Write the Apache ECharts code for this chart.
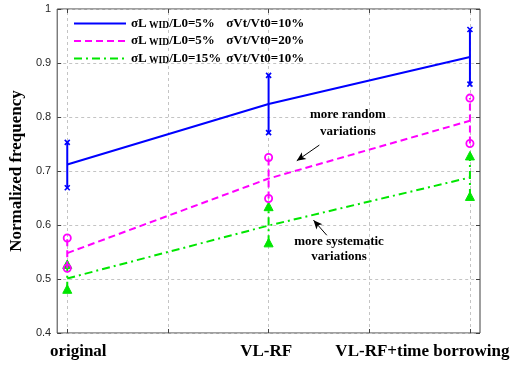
<!DOCTYPE html>
<html>
<head>
<meta charset="utf-8">
<script src="https://cdn.jsdelivr.net/npm/echarts@6/dist/echarts.min.js"></script>
<style>
  html, body { margin: 0; padding: 0; background: #fff; }
  #chart { width: 519px; height: 365px; }
</style>
</head>
<body>
<div id="chart"></div>
<script>
// Design stages along the x axis
const stages = ['original', 'VL-RF', 'VL-RF+time borrowing'];
const stageX = [1, 2, 3];

// Normalized frequency: mean, lower and upper error bound per stage
const blueMean = [0.712, 0.824, 0.911];
const blueLow  = [0.669, 0.771, 0.861];
const blueHigh = [0.753, 0.877, 0.962];

const pinkMean = [0.548, 0.686, 0.793];
const pinkLow  = [0.520, 0.649, 0.751];
const pinkHigh = [0.576, 0.725, 0.835];

const greenMean = [0.501, 0.599, 0.688];
const greenLow  = [0.480, 0.566, 0.652];
const greenHigh = [0.526, 0.633, 0.727];

// Legend entries: sigma L_WID / L0 and sigma Vt / Vt0
const names = ['blue', 'pink', 'green'];
const lwid = ['5%', '5%', '15%'];
const vt = ['10%', '20%', '10%'];

const xGrid = [1, 1.5, 2, 2.5, 3];

const C_BLUE = '#0000ff', C_PINK = '#ff00ff', C_GREEN = '#00e600';
const SERIF = '"Liberation Serif", "Times New Roman", serif';

function pts(mean) { return stageX.map((x, i) => [x, mean[i]]); }
function bars(lo, hi) { return stageX.map((x, i) => [x, lo[i], hi[i]]); }

function errorBar(color, dash, cap) {
  return function (params, api) {
    const p0 = api.coord([api.value(0), api.value(1)]);
    const p1 = api.coord([api.value(0), api.value(2)]);
    const children = [{
      type: 'line',
      shape: { x1: p0[0], y1: p0[1], x2: p1[0], y2: p1[1] },
      style: { stroke: color, lineWidth: 2, lineDash: dash }
    }];
    [p0, p1].forEach(function (p) {
      if (cap === 'x') {
        const s = 2.5;
        children.push({ type: 'line', shape: { x1: p[0] - s, y1: p[1] - s, x2: p[0] + s, y2: p[1] + s }, style: { stroke: color, lineWidth: 1.6 } });
        children.push({ type: 'line', shape: { x1: p[0] - s, y1: p[1] + s, x2: p[0] + s, y2: p[1] - s }, style: { stroke: color, lineWidth: 1.6 } });
      } else if (cap === 'o') {
        children.push({ type: 'circle', shape: { cx: p[0], cy: p[1], r: 3.6 }, style: { stroke: color, fill: 'none', lineWidth: 1.8 } });
      } else {
        children.push({ type: 'polygon', shape: { points: [[p[0], p[1] - 5], [p[0] - 4.5, p[1] + 3.5], [p[0] + 4.5, p[1] + 3.5]] }, style: { fill: color, stroke: color, lineWidth: 1 } });
      }
    });
    return { type: 'group', children: children };
  };
}

const chart = echarts.init(document.getElementById('chart'), null, { renderer: 'canvas' });

const axisText = { fontFamily: 'Liberation Sans, Arial, sans-serif', fontSize: 11, color: '#262626' };
const gridLineStyle = { color: '#c4c4c4', type: [3, 3], width: 1 };

const option = {
  animation: false,
  backgroundColor: '#ffffff',
  grid: { left: 55, right: 39, top: 9, bottom: 32, show: true, borderColor: '#404040', borderWidth: 1, backgroundColor: 'transparent' },
  legend: {
    data: names,
    left: 68, top: 12,
    padding: 5,
    z: 20,
    orient: 'vertical',
    itemWidth: 52, itemHeight: 14, itemGap: 4,
    itemStyle: { opacity: 0 },
    formatter: function (n) {
      const i = names.indexOf(n);
      return '{s|σL}{w| WID}{p|/L0=' + lwid[i] + '}{s|σVt/Vt0=' + vt[i] + '}';
    },
    textStyle: {
      fontFamily: SERIF, fontWeight: 'bold', fontSize: 13, color: '#000',
      rich: {
        s: { fontFamily: SERIF, fontWeight: 'bold', fontSize: 13, color: '#000', lineHeight: 14 },
        w: { fontFamily: SERIF, fontWeight: 'bold', fontSize: 9.5, color: '#000', lineHeight: 11, verticalAlign: 'bottom' },
        p: { fontFamily: SERIF, fontWeight: 'bold', fontSize: 13, color: '#000', lineHeight: 14, width: 57 }
      }
    }
  },
  xAxis: [{
    type: 'value', min: 0.95, max: 3.05,
    axisLine: { show: false },
    axisTick: { show: true, inside: true, length: 4, customValues: xGrid, lineStyle: { color: '#404040' } },
    splitLine: { show: false },
    axisLabel: {
      customValues: stageX,
      margin: 10,
      formatter: function (v) {
        const i = stageX.indexOf(v);
        return i < 0 ? '' : '{l' + i + '|' + stages[i] + '}';
      },
      fontFamily: SERIF, fontWeight: 'bold', fontSize: 17, color: '#000',
      rich: {
        l0: { fontFamily: SERIF, fontWeight: 'bold', fontSize: 17, color: '#000', padding: [0, 0, 0, 22] },
        l1: { fontFamily: SERIF, fontWeight: 'bold', fontSize: 17, color: '#000', padding: [0, 5, 0, 0] },
        l2: { fontFamily: SERIF, fontWeight: 'bold', fontSize: 17, color: '#000', padding: [0, 95, 0, 0] }
      }
    }
  }, {
    type: 'value', min: 0.95, max: 3.05, position: 'top',
    axisLine: { show: false },
    axisTick: { show: true, inside: true, length: 4, customValues: xGrid, lineStyle: { color: '#404040' } },
    splitLine: { show: false },
    axisLabel: { show: false }
  }],
  yAxis: [{
    type: 'value', min: 0.4, max: 1, interval: 0.1,
    name: 'Normalized frequency', nameLocation: 'middle', nameGap: 24,
    nameTextStyle: { fontFamily: SERIF, fontWeight: 'bold', fontSize: 17, color: '#000' },
    axisLine: { show: false },
    axisTick: { show: true, inside: true, length: 4, lineStyle: { color: '#404040' } },
    splitLine: { show: true, lineStyle: gridLineStyle },
    axisLabel: Object.assign({ margin: 6, formatter: function (v) { return String(+v.toFixed(1)); } }, axisText)
  }, {
    type: 'value', min: 0.4, max: 1, interval: 0.1, position: 'right',
    axisLine: { show: false },
    axisTick: { show: true, inside: true, length: 4, lineStyle: { color: '#404040' } },
    splitLine: { show: false },
    axisLabel: { show: false }
  }],
  series: [
    // vertical grid lines at the stage positions and half-way between them
    { name: 'vgrid', type: 'line', data: [], z: 0, silent: true,
      markLine: {
        z: 0, silent: true, symbol: ['none', 'none'], label: { show: false },
        lineStyle: gridLineStyle,
        data: xGrid.map(function (x) { return { xAxis: x }; })
      }
    },
    { name: 'green', type: 'line', data: pts(greenMean), symbol: 'none', z: 6,
      lineStyle: { color: C_GREEN, width: 2, type: [8, 4, 2, 4] }, itemStyle: { color: C_GREEN },
      // annotation arrows pointing at the two trend lines
      markLine: {
        z: 7, silent: true, symbol: ['none', 'arrow'], symbolSize: [6, 9],
        label: { show: false },
        itemStyle: { color: '#000' },
        lineStyle: { color: '#000', width: 1, type: 'solid' },
        data: [
          [{ coord: [2.252, 0.748] }, { coord: [2.140, 0.719] }],
          [{ coord: [2.289, 0.581] }, { coord: [2.223, 0.609] }]
        ]
      }
    },
    { name: 'pink', type: 'line', data: pts(pinkMean), symbol: 'none', z: 6,
      lineStyle: { color: C_PINK, width: 2, type: [7, 4] }, itemStyle: { color: C_PINK } },
    { name: 'blue', type: 'line', data: pts(blueMean), symbol: 'none', z: 6,
      lineStyle: { color: C_BLUE, width: 2, type: 'solid' }, itemStyle: { color: C_BLUE } },
    { type: 'custom', data: bars(greenLow, greenHigh), renderItem: errorBar(C_GREEN, [8, 4, 2, 4], 't'), z: 5 },
    { type: 'custom', data: bars(pinkLow, pinkHigh), renderItem: errorBar(C_PINK, [7, 4], 'o'), z: 5 },
    { type: 'custom', data: bars(blueLow, blueHigh), renderItem: errorBar(C_BLUE, null, 'x'), z: 5 }
  ]
};

chart.setOption(option);

// Annotation captions, anchored in data space
const notes = [
  { text: 'more random', at: [2.394, 0.8037] },
  { text: 'variations', at: [2.394, 0.772] },
  { text: 'more systematic', at: [2.350, 0.5685] },
  { text: 'variations', at: [2.350, 0.541] }
];
chart.setOption({
  graphic: notes.map(function (n) {
    const p = chart.convertToPixel({ gridIndex: 0 }, n.at);
    return {
      type: 'text', x: p[0], y: p[1], z: 10,
      style: { text: n.text, fontFamily: SERIF, fontWeight: 'bold', fontSize: 13, fill: '#000', align: 'center', verticalAlign: 'middle' }
    };
  })
});
</script>
</body>
</html>
